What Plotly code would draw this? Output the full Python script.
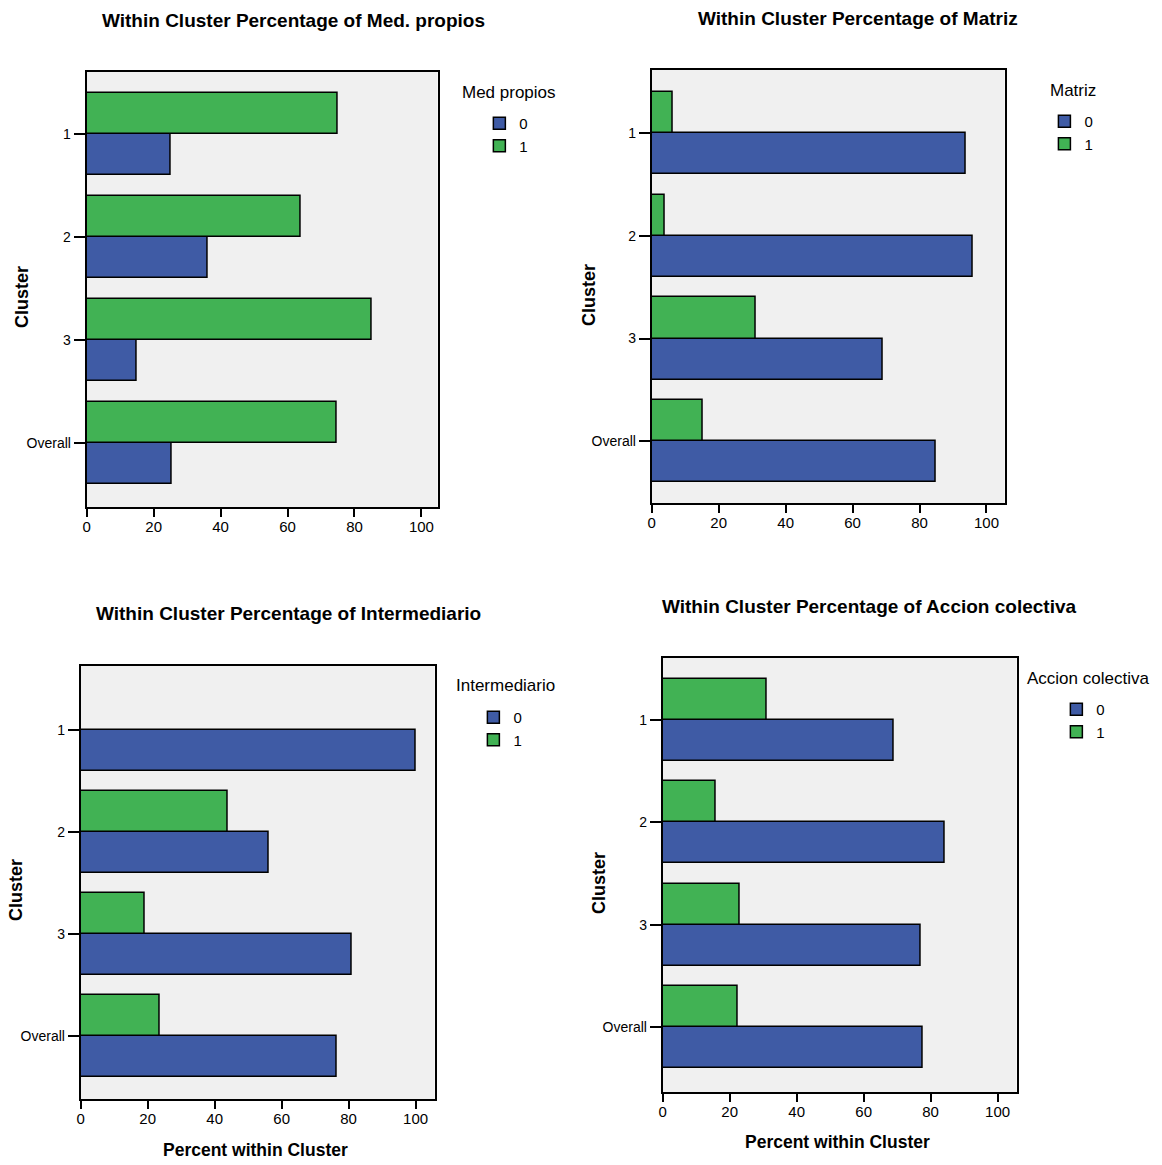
import plotly.graph_objects as go

W, H = 1162, 1165

# Cluster categories shown on every y axis
clusters = ["1", "2", "3", "Overall"]
legend_values = ["0", "1"]

# Within-cluster percentages, value 0 and value 1 of each variable
med_propios_0 = [25, 36, 15, 25.3]
med_propios_1 = [75, 64, 85, 74.7]

matriz_0 = [93.75, 96, 69, 84.8]
matriz_1 = [6.25, 4, 31, 15.2]

intermediario_0 = [100, 56, 81, 76.3]
intermediario_1 = [0, 44, 19, 23.7]

accion_colectiva_0 = [69, 84.2, 77, 77.5]
accion_colectiva_1 = [31, 15.8, 23, 22.5]

x_ticks = [0, 20, 40, 60, 80, 100]

BLUE = "#3f5ba5"
GREEN = "#41b254"
BG = "#f0f0f0"
FONT = "Liberation Sans, Arial, sans-serif"
DX = -2  # small horizontal nudge of the whole layout, in px


def px_x(p):
    return (p + DX) / W


def px_y(p):
    return 1 - p / H


panels = [
    dict(legend_title="Med propios",
         v0=med_propios_0, v1=med_propios_1,
         box=(85, 72, 437, 507), xmax=104.8, yr=(3.62, -0.6),
         title="Within Cluster Percentage of Med. propios", title_xy=(293, 21),
         ytitle_xy=(20, 297), xtitle_xy=None,
         legtitle_xy=(460, 92), swatch_xy=(501, 119)),
    dict(legend_title="Matriz",
         v0=matriz_0, v1=matriz_1,
         box=(652, 70, 1006, 503), xmax=105.4, yr=(3.6, -0.613),
         title="Within Cluster Percentage of Matriz", title_xy=(859, 19),
         ytitle_xy=(589, 295), xtitle_xy=None,
         legtitle_xy=(1050, 90), swatch_xy=(1068, 117)),
    dict(legend_title="Intermediario",
         v0=intermediario_0, v1=intermediario_1,
         box=(79, 666, 434, 1099), xmax=105.65, yr=(3.62, -0.627),
         title="Within Cluster Percentage of Intermediario", title_xy=(287, 614),
         ytitle_xy=(14, 890), xtitle_xy=(254, 1150),
         legtitle_xy=(454, 685), swatch_xy=(495, 713)),
    dict(legend_title="Accion colectiva",
         v0=accion_colectiva_0, v1=accion_colectiva_1,
         box=(663, 658, 1018, 1092), xmax=105.65, yr=(3.635, -0.606),
         title="Within Cluster Percentage of Accion colectiva", title_xy=(870, 606),
         ytitle_xy=(599, 883), xtitle_xy=(838, 1142),
         legtitle_xy=(1027, 678), swatch_xy=(1080, 705)),
]

fig = go.Figure()
annotations = []
layout = {}

for i, p in enumerate(panels, start=1):
    sfx = "" if i == 1 else str(i)
    xa, ya = "x" + sfx, "y" + sfx
    leg = "legend" + sfx
    series = ((legend_values[0], p["v0"], BLUE, 0.0), (legend_values[1], p["v1"], GREEN, -0.4))
    for label, vals, color, off in series:
        fig.add_trace(go.Bar(
            x=vals, y=clusters, orientation="h", name=label,
            width=0.4, offset=off, xaxis=xa, yaxis=ya, legend=leg,
            marker=dict(color=color, line=dict(color="black", width=1.5)),
            showlegend=True,
        ))
    l, t, r, b = p["box"]
    layout["xaxis" + sfx] = dict(
        domain=[px_x(l), px_x(r)], range=[0, p["xmax"]], anchor=ya,
        tickvals=x_ticks, ticks="outside", ticklen=8, tickwidth=1.5, tickcolor="black",
        ticklabelstandoff=-3,
        showline=True, mirror=True, linecolor="black", linewidth=2,
        showgrid=False, zeroline=False,
        tickfont=dict(family=FONT, size=15, color="black"),
    )
    layout["yaxis" + sfx] = dict(
        domain=[px_y(b), px_y(t)], range=list(p["yr"]), anchor=xa,
        type="category", categoryarray=clusters,
        ticks="outside", ticklen=11, tickwidth=1.5, tickcolor="black",
        showline=True, mirror=True, linecolor="black", linewidth=2,
        showgrid=False, zeroline=False,
        tickfont=dict(family=FONT, size=14, color="black"),
    )
    sx, sy = p["swatch_xy"]
    layout[leg] = dict(
        x=px_x(sx - 22), y=px_y(sy - 12),
        xanchor="left", yanchor="top", xref="paper", yref="paper",
        bgcolor="rgba(0,0,0,0)", borderwidth=0, itemwidth=30,
        tracegroupgap=0,
        font=dict(family=FONT, size=15, color="black"),
    )
    annotations.append(dict(
        text=p["legend_title"], x=px_x(p["legtitle_xy"][0]), y=px_y(p["legtitle_xy"][1]),
        xref="paper", yref="paper", xanchor="left", yanchor="middle", showarrow=False,
        font=dict(family=FONT, size=17, color="black"),
    ))
    annotations.append(dict(
        text="<b>" + p["title"] + "</b>", x=px_x(p["title_xy"][0]), y=px_y(p["title_xy"][1]),
        xref="paper", yref="paper", xanchor="center", yanchor="middle", showarrow=False,
        font=dict(family=FONT, size=19, color="black"),
    ))
    annotations.append(dict(
        text="<b>Cluster</b>", x=px_x(p["ytitle_xy"][0]), y=px_y(p["ytitle_xy"][1]),
        xref="paper", yref="paper", xanchor="center", yanchor="middle", showarrow=False,
        textangle=-90, font=dict(family=FONT, size=18, color="black"),
    ))
    if p["xtitle_xy"]:
        annotations.append(dict(
            text="<b>Percent within Cluster</b>", x=px_x(p["xtitle_xy"][0]), y=px_y(p["xtitle_xy"][1]),
            xref="paper", yref="paper", xanchor="center", yanchor="middle", showarrow=False,
            font=dict(family=FONT, size=17.5, color="black"),
        ))

fig.update_layout(
    width=W, height=H, margin=dict(l=0, r=0, t=0, b=0),
    paper_bgcolor="white", plot_bgcolor=BG,
    barmode="overlay", bargap=0,
    annotations=annotations,
    **layout,
)

fig.write_html("out.html")
